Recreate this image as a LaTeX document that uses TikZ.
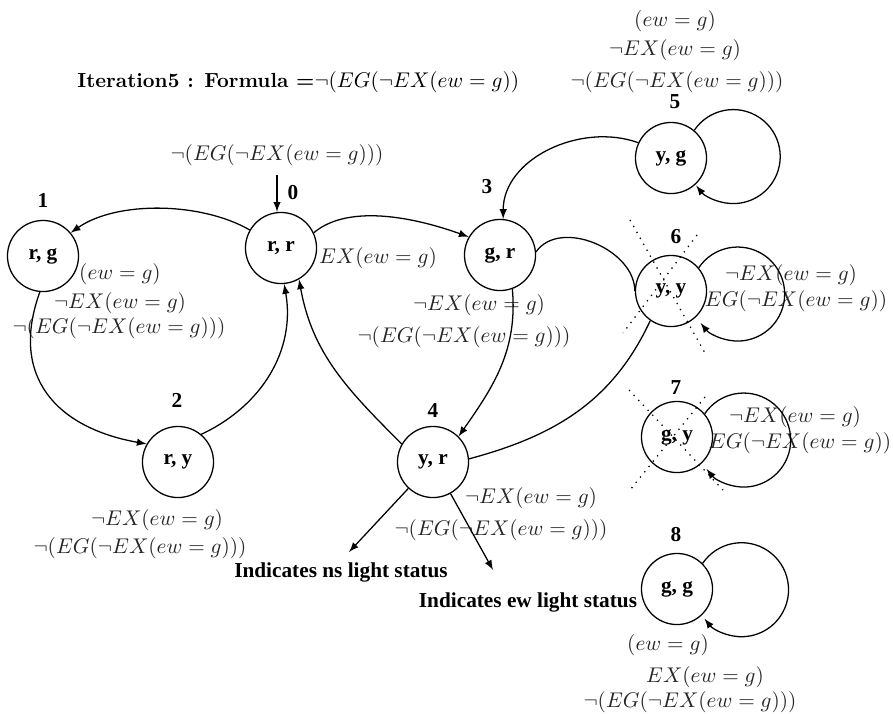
\documentclass[tikz,border=0pt]{standalone}
\usepackage{fontspec}
\newfontfamily\timesfont{Liberation Serif}
\usetikzlibrary{arrows,calc}

\newcommand{\fEW}{$(ew = g)$}
\newcommand{\fEX}{$EX(ew = g)$}
\newcommand{\fNEX}{$\neg EX(ew = g)$}
\newcommand{\fEG}{$EG(\neg EX(ew = g))$}
\newcommand{\fNEG}{$\neg(EG(\neg EX(ew = g)))$}

\begin{document}
\begin{tikzpicture}[
        x=0.47pt, y=0.47pt,
        state/.style={circle, draw, line width=0.6pt, minimum size=33.4pt, inner sep=0pt, font=\timesfont\bfseries},
        num/.style={inner sep=0pt, font=\timesfont\bfseries},
        formula/.style={inner sep=0pt, text=black!85},
        status/.style={inner sep=0pt, font=\timesfont\bfseries},
        arrow/.style={-latex, line width=0.6pt},
        edge/.style={line width=0.6pt},
        selfloop/.style={arrow, start angle=146, end angle=-142, radius=47},
        cross/.style={line width=0.6pt, dash pattern=on 0.6pt off 2.6pt}
    ]
        \useasboundingbox (0,0) rectangle (893,-713);

        \node[anchor=west, inner sep=0pt] (title) at (77,-82) {{\fontsize{9.6}{11}\selectfont\textbf{Iteration5 : Formula =}}$\neg(EG(\neg EX(ew = g))$};

        % states
        \node[state] (rr) at (281,-248) {r, r};
        \node[state] (rg) at (43,-256) {r, g};
        \node[state] (ry) at (178,-462) {r, y};
        \node[state] (gr) at (500,-255) {g, r};
        \node[state] (yr) at (433,-462) {y, r};
        \node[state] (yg) at (671,-158) {y, g};
        \node[state] (yy) at (671,-291) {y, y};
        \node[state] (gy) at (677,-437) {g, y};
        \node[state] (gg) at (677,-589) {g, g};

        \node[num] (l0) at (293,-193) {0};
        \node[num] (l1) at (43,-200) {1};
        \node[num] (l2) at (177,-400) {2};
        \node[num] (l3) at (487,-187) {3};
        \node[num] (l4) at (433,-410) {4};
        \node[num] (l5) at (675,-102) {5};
        \node[num] (l6) at (676,-237) {6};
        \node[num] (l7) at (676,-388) {7};
        \node[num] (l8) at (676,-535) {8};

        % formulas
        \node[formula] (init) at (277,-155) {\fNEG};
        \node[formula] (rg1) at (120,-274) {\fEW};
        \node[formula] (rg2) at (120,-303) {\fNEX};
        \node[formula] (rg3) at (119,-328) {\fNEG};
        \node[formula] (rr1) at (378,-258) {\fEX};
        \node[formula] (gr1) at (479,-305) {\fNEX};
        \node[formula] (gr2) at (464,-337) {\fNEG};
        \node[formula] (ry1) at (157,-520) {\fNEX};
        \node[formula] (ry2) at (140,-548) {\fNEG};
        \node[formula] (yr1) at (531,-498) {\fNEX};
        \node[formula] (yr2) at (501,-530) {\fNEG};
        \node[formula] (yg1) at (675,-21) {\fEW};
        \node[formula] (yg2) at (675,-50) {\fNEX};
        \node[formula] (yg3) at (677,-82) {\fNEG};
        \node[formula] (yy1) at (791,-275) {\fNEX};
        \node[formula] (yy2) at (796,-301) {\fEG};
        \node[formula] (gy1) at (795,-417) {\fNEX};
        \node[formula] (gy2) at (800,-443) {\fEG};
        \node[formula] (gg1) at (668,-645) {\fEW};
        \node[formula] (gg2) at (705,-677) {\fEX};
        \node[formula] (gg3) at (690,-702) {\fNEG};

        \node[status] (ns) at (341,-572) {Indicates ns light status};
        \node[status] (ew) at (528,-602) {Indicates ew light status};
        \coordinate (nsTip) at (349,-552);
        \coordinate (ewTip) at (493,-570);

        % transitions
        \draw[arrow, shorten <=4pt] (init.south) -- (init.south |- rr.north);
        \draw[arrow] (rr.150) to[out=150, in=35, looseness=0.8] (rg.40);
        \draw[arrow] (rg.265) to[out=250, in=170, looseness=1.25] (ry.150);
        \draw[arrow] (ry.50) to[out=25, in=280] (rr.275);
        \draw[arrow] (yr.150) to[out=135, in=280] (rr.300);
        \draw[arrow] (rr.25) to[out=40, in=160, looseness=0.8] (gr.150);
        \draw[arrow] (yg.155) to[out=160, in=90] (gr.85);
        \draw[arrow] (gr.290) to[out=275, in=55] (yr.45);
        \draw[edge] (gr.5) to[out=55, in=90] (yy.180);
        \draw[edge] (yy.235) to[out=245, in=15] (yr.5);

        % self loops
        \draw[selfloop] (yg.50) arc;
        \draw[selfloop] (yy.40) arc;
        \draw[selfloop] (gy.40) arc;
        \draw[selfloop] (gg.45) arc;

        \draw[arrow] (yr) -- (nsTip);
        \draw[arrow] (yr) -- (ewTip);

        % crossed out states
        \draw[cross] ($(yy)+(-41,71)$) -- ($(yy)+(34,-62)$);
        \draw[cross] ($(yy)+(26,56)$) -- ($(yy)+(-48,-42)$);
        \draw[cross] ($(gy)+(-48,47)$) -- ($(gy)+(46,-53)$);
        \draw[cross] ($(gy)+(28,40)$) -- ($(gy)+(-47,-53)$);
    \end{tikzpicture}
\end{document}
